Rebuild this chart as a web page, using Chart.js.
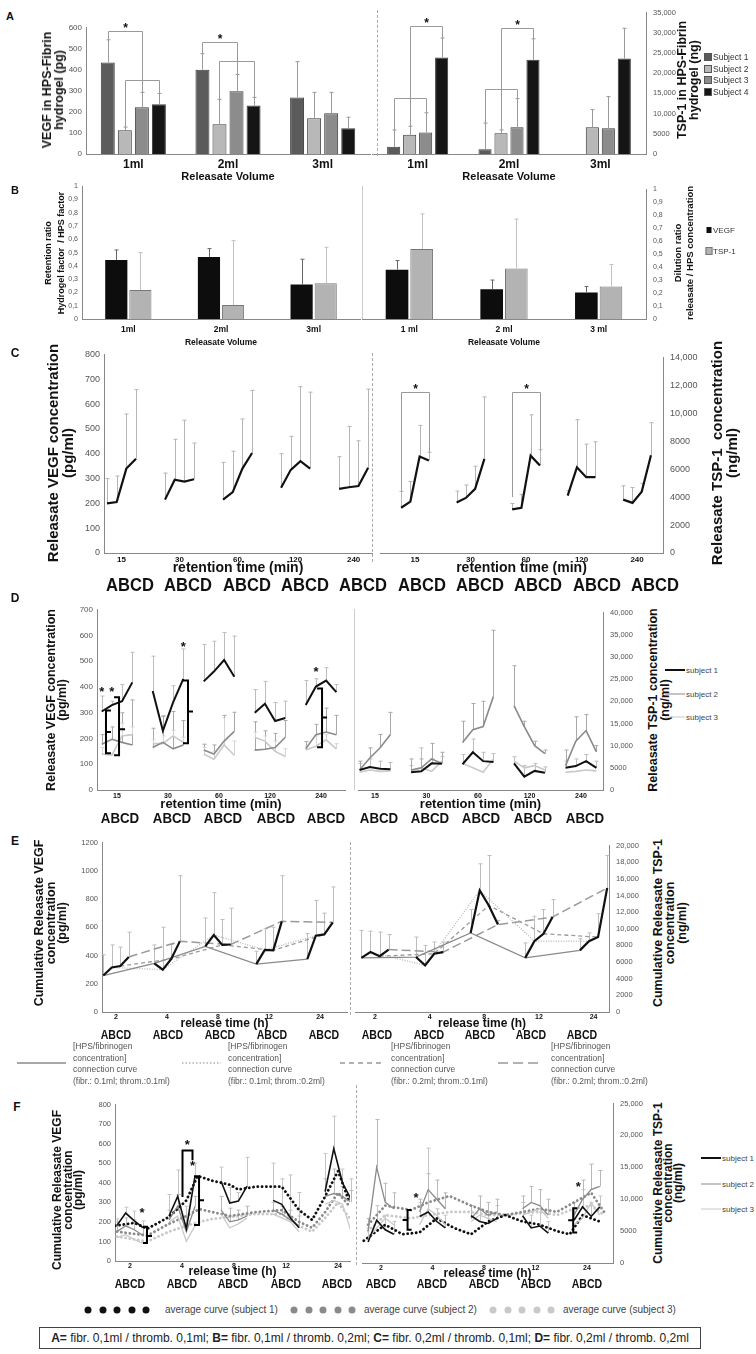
<!DOCTYPE html>
<html>
<head>
<meta charset="utf-8">
<title>VEGF / TSP-1 release from HPS-fibrin hydrogels</title>
<script src="https://cdn.jsdelivr.net/npm/chart.js@4.4.1/dist/chart.umd.min.js"></script>
<style>
  body { margin:0; width:756px; height:1354px; position:relative; background:#fff; overflow:hidden;
         font-family:"Liberation Sans", Arial, sans-serif; color:#111; }
  canvas { position:absolute; }
  .lab { position:absolute; white-space:nowrap; transform:translate(-50%,-50%); }
  .vt { position:absolute; white-space:nowrap; font-weight:bold; text-align:center;
        transform:translate(-50%,-50%) rotate(-90deg); }
  .abs { position:absolute; }
</style>
</head>
<body>
<script>
const F = '"Liberation Sans", Arial, sans-serif';

// ---------------- data ----------------
const volumes = ['1ml', '2ml', '3ml'];
const volumesB = ['1 ml', '2 ml', '3 ml'];
const subjectsA = ['Subject 1', 'Subject 2', 'Subject 3', 'Subject 4'];
// A: VEGF (pg) and TSP-1 (ng) retained in the hydrogel, one row per subject
const vegfA    = [[435, 401, 269], [113, 142, 170], [222, 298, 194], [236, 231, 123]];
const vegfAErr = [[543, 477, 439], [128, 260, 293], [293, 378, 293], [288, 269, 175]];
const tspA     = [[1770, 1200, null], [4750, 5150, 6600], [5300, 6600, 6350], [23900, 23300, 23600]];
const tspAErr  = [[5950, 7650, null], [6850, 5950, 11000], [10200, 13700, 14200], [28700, 28500, 31100]];

// B: retention ratio (left) and dilution ratio (right)
const retVegf = [0.444, 0.466, 0.26],  retVegfErr = [0.52, 0.53, 0.45];
const retTsp  = [0.218, 0.105, 0.27],  retTspErr  = [0.50, 0.59, 0.54];
const dilVegf = [0.38, 0.23, 0.205],   dilVegfErr = [0.45, 0.30, 0.25];
const dilTsp  = [0.54, 0.39, 0.25],    dilTspErr  = [0.81, 0.77, 0.42];

const retentionTimes = ['15', '30', '60', '120', '240'];
const releaseTimes = ['2', '4', '8', '12', '24'];
const abcd = 'ABCD';

// C: one row per retention time, values for A, B, C, D
const vegfC    = [[200, 205, 340, 380], [215, 295, 288, 297], [215, 245, 340, 403], [263, 335, 370, 340], [258, 265, 270, 343]];
const vegfCErr = [[300, 310, 560, 658], [322, 458, 535, 443], [365, 410, 540, 655], [400, 470, 670, 648], [388, 510, 452, 660]];
const tspC     = [[3240, 3680, 6910, 6620], [3620, 3940, 4590, 6740], [3120, 3240, 6970, 6270], [4110, 6130, 5430, 5430], [3820, 3590, 4380, 7000]];
const tspCErr  = [[4410, 5110, 9135, 7210], [4430, 4870, 6210, 11170], [3540, 4200, 9890, 7390], [4460, 9540, 7790, 7960], [4810, 4690, 4990, 9330]];

// D: per subject
const vegfD1 = [[305, 330, 345, 418], [385, 230, 340, 432], [422, 460, 505, 440], [300, 335, 268, 280], [330, 402, 425, 380]];
const vegfD2 = [[178, 197, 185, 175], [165, 185, 160, 175], [155, 140, 190, 228], [155, 158, 165, 205], [160, 215, 225, 215]];
const vegfD3 = [[140, 135, 210, 215], [180, 180, 210, 185], [140, 120, 175, 135], [205, 190, 150, 130], [155, 170, 195, 160]];
const vegfD1Err = [[365, 345, 410, 535], [520, 290, 405, 548], [565, 578, 612, 598], [390, 422, 340, 345], [425, 432, 475, 410]];
const vegfD2Err = [[215, 245, 300, 350], [240, 285, 305, 270], [178, 175, 290, 302], [265, 230, 220, 270], [188, 255, 318, 290]];
const vegfD3Err = [[165, 140, 260, 245], [195, 210, 232, 205], [165, 150, 280, 190], [225, 210, 190, 160], [170, 210, 215, 180]];
const tspD1 = [[4500, 5200, 4800, 4700], [4000, 4200, 6000, 5900], [5800, 8500, 6500, 6300], [6000, 3000, 4300, 3900], [5000, 5400, 6500, 5000]];
const tspD2 = [[4500, 7200, 9500, 12500], [4500, 5000, 7000, 6000], [10700, 13600, 14300, 21100], [19000, 14300, 10000, 8200], [5500, 11000, 13400, 8600]];
const tspD3 = [[4000, 4500, 4200, 4300], [4300, 5000, 4200, 6500], [6000, 5000, 4000, 7000], [6500, 5000, 5500, 4500], [4000, 4200, 4500, 4300]];
const tspD1Err = [[6000, 7000, 6500, 6200], [5500, 9500, 7000, 7500], [8000, 11500, 8500, 8200], [7500, 5500, 6000, 5200], [6500, 7000, 8000, 6500]];
const tspD2Err = [[6500, 9500, 12500, 17500], [7000, 7000, 10500, 8500], [15500, 19500, 20000, 36000], [28000, 15500, 11000, 9000], [9000, 16500, 17000, 10000]];

// E: cumulative release
const vegfE    = [[258, 315, 325, 390], [345, 300, 375, 500], [465, 545, 475, 478], [339, 440, 437, 642], [374, 540, 549, 635]];
const vegfEErr = [[405, 475, 460, 565], [475, 600, 478, 965], [665, 845, 655, 735], [430, 590, 600, 965], [555, 790, 700, 885]];
const tspE     = [[6500, 7200, 6700, 7500], [6600, 5600, 7000, 7200], [9500, 14600, 12800, 10500], [6500, 8500, 9400, 11400], [7400, 8500, 9000, 14900]];
const tspEErr  = [[9800, 9700, 9600, 9300], [9000, 8000, 8400, 8400], [12300, 17800, 18800, 11000], [8300, 11500, 12300, 13500], [8800, 9500, 11800, 18800]];

// F: cumulative release per subject
const vegfF1 = [[182, 245, 205, 170], [230, 330, 165, 435], [408, 296, 306, 383], [310, 290, 220, 170], [355, 575, 400, 315]];
const vegfF2 = [[150, 180, 160, 130], [210, 280, 150, 280], [260, 200, 210, 230], [260, 240, 210, 180], [330, 345, 330, 300]];
const vegfF3 = [[120, 135, 110, 90], [200, 230, 100, 180], [240, 170, 190, 220], [240, 220, 200, 150], [290, 310, 290, 150]];
const vegfF1Err = [[215, 275, 255, 205], [340, 465, 280, 500], [480, 375, 350, 530], [500, 420, 440, 350], [550, 740, 470, 420]];
const vegfF2Err = [[200, 220, 210, 170], [260, 340, 190, 330], [330, 270, 260, 280], [300, 280, 260, 230], [420, 470, 380, 360]];
const vegfAvg1 = [[-0.2, 180], [2, 195], [3.5, 165], [6, 225], [8, 310], [9.3, 435], [11, 410], [13, 390], [14, 365], [16, 380], [19, 380], [21, 260], [22.5, 210], [24, 330], [25.5, 460], [26.8, 300]];
const vegfAvg2 = [[0, 150], [3.5, 130], [6, 190], [8, 230], [9.5, 265], [11, 250], [13, 230], [16, 250], [19, 260], [21, 200], [22.5, 170], [24, 250], [25.5, 350], [26.8, 280]];
const vegfAvg3 = [[0, 125], [3.5, 100], [6, 150], [8, 180], [9.5, 200], [11, 215], [13, 225], [16, 240], [19, 240], [21, 180], [22.5, 150], [24, 220], [25.5, 300], [26.8, 220]];
const tspF1 = [[3300, 6700, 5200, 4500], [7300, 8000, 6500, 5500], [7400, 6500, 6200, 7000], [7400, 5500, 5800, 4700], [6700, 8800, 7300, 8800]];
const tspF2 = [[5000, 15000, 9500, 8500], [8000, 11500, 10000, 8500], [7000, 8500, 7500, 8000], [8500, 9500, 9000, 7500], [7500, 10000, 11500, 12000]];
const tspF3 = [[3800, 5500, 7000, 6000], [6000, 8500, 7500, 6000], [6500, 7500, 7000, 6500], [7500, 8000, 8500, 7000], [6000, 7000, 9500, 7500]];
const tspF1Err = [[5500, 9000, 7500, 6500], [9500, 18000, 8500, 7500], [9000, 8500, 8000, 9000], [9500, 7500, 8000, 6500], [8500, 11500, 9500, 10500]];
const tspF2Err = [[7000, 22500, 12500, 11000], [10000, 14000, 13000, 11000], [9000, 10500, 9500, 10000], [10500, 12000, 11500, 10000], [9500, 13000, 15500, 14500]];
const tspAvg1 = [[-0.5, 3500], [2, 6000], [4, 4500], [6, 4800], [8, 7000], [10, 5500], [12, 4500], [14, 6500], [16, 7500], [18, 6500], [20, 6000], [22, 5000], [23.5, 4500], [25, 7500], [27, 6500]];
const tspAvg2 = [[0, 6000], [2, 9000], [5, 8300], [7, 9500], [9.5, 10500], [12, 9000], [14, 8000], [16, 7500], [18, 8000], [20, 8500], [22, 8000], [24, 9500], [26, 11000], [27.5, 8000]];
const tspAvg3 = [[0, 5000], [2, 7500], [5, 7000], [7, 7500], [9.5, 8000], [12, 8000], [14, 7500], [16, 7500], [18, 7800], [20, 8000], [22, 7500], [24, 8500], [26, 9000], [27.5, 7500]];

// ---------------- styles ----------------
const colA = ['#5b5b5b', '#b8b8b8', '#8c8c8c', '#151515'];
const colS = ['#111111', '#8a8a8a', '#c9c9c9'];

// ---------------- helpers ----------------
const MARKS = {};
let cid = 0;

function fmtInt(v) { return v >= 10000 ? v.toLocaleString('en-US') : String(v); }
function fmtComma(v) { return (v === 0 || v === 1) ? String(v) : v.toFixed(1).replace('.', ','); }

function xPix(chart, x) {
  if (Array.isArray(x)) return chart.getDatasetMeta(x[0]).data[x[1]].x;
  return chart.scales.x.getPixelForValue(x);
}
function star(ctx, x, y, size) {
  ctx.fillStyle = '#111';
  ctx.font = 'bold ' + size + 'px ' + F;
  ctx.textAlign = 'center'; ctx.textBaseline = 'middle';
  ctx.fillText('*', x, y + size * 0.25);
}
function drawErr(chart, behind) {
  const ctx = chart.ctx, ys = chart.scales.y;
  chart.data.datasets.forEach((ds, di) => {
    if (!ds.err || !!ds.errBehind !== behind) return;
    const meta = chart.getDatasetMeta(di);
    ctx.save();
    ctx.strokeStyle = ds.errColor || '#aaa'; ctx.lineWidth = 1;
    ctx.beginPath();
    meta.data.forEach((el, i) => {
      const e = ds.err[i];
      if (e == null || el.skip || isNaN(el.y)) return;
      const x = Math.round(el.x) + 0.5, y1 = ys.getPixelForValue(e);
      ctx.moveTo(x, el.y); ctx.lineTo(x, y1);
      ctx.moveTo(x - 2, y1); ctx.lineTo(x + 2, y1);
    });
    ctx.stroke();
    ctx.restore();
  });
}
const marksPlugin = {
  id: 'marks',
  beforeDatasetsDraw(chart) { drawErr(chart, true); },
  afterDatasetsDraw(chart) {
    drawErr(chart, false);
    const m = MARKS[chart.canvas.id] || {};
    const ctx = chart.ctx, ys = chart.scales.y;
    const Y = v => ys.getPixelForValue(v);
    ctx.save();
    (m.br || []).forEach(b => {
      const x1 = Math.round(xPix(chart, b.x1)) + 0.5, x2 = Math.round(xPix(chart, b.x2)) + 0.5;
      const y = Math.round(Y(b.y)) + 0.5;
      ctx.strokeStyle = b.c || '#9a9a9a'; ctx.lineWidth = b.w || 1;
      ctx.beginPath();
      ctx.moveTo(x1, Y(b.y1)); ctx.lineTo(x1, y); ctx.lineTo(x2, y); ctx.lineTo(x2, Y(b.y2));
      ctx.stroke();
      if (b.star) star(ctx, (x1 + x2) / 2, y - 6, 12);
    });
    (m.side || []).forEach(s => {
      const x = xPix(chart, s.x), y1 = Y(s.y1), y2 = Y(s.y2), ym = Y(s.ym);
      ctx.strokeStyle = '#000'; ctx.lineWidth = 2;
      ctx.beginPath();
      ctx.moveTo(x + s.cap, y1); ctx.lineTo(x, y1); ctx.lineTo(x, y2); ctx.lineTo(x + s.cap, y2);
      ctx.moveTo(x, ym); ctx.lineTo(x + s.tick, ym);
      ctx.stroke();
    });
    (m.stars || []).forEach(s => star(ctx, xPix(chart, s.x), Y(s.y), 13));
    ctx.restore();
  }
};
Chart.register(marksPlugin);

function makeChart(area, side, yw, xh, cfg, marks) {
  const padT = 8, padS = 4;
  const x = side === 'left' ? area.L - yw : area.L - padS;
  const w = side === 'left' ? area.R + padS - x : area.R + yw - x;
  const y = area.T - padT, h = area.B + xh - y;
  const c = document.createElement('canvas');
  c.id = 'c' + (cid++);
  c.width = w; c.height = h;
  c.style.left = x + 'px'; c.style.top = y + 'px';
  document.body.appendChild(c);
  MARKS[c.id] = marks || {};
  const o = cfg.options;
  o.layout = { padding: side === 'left' ? { top: padT, right: padS, left: 0, bottom: 0 } : { top: padT, left: padS, right: 0, bottom: 0 } };
  o.responsive = false; o.animation = false; o.devicePixelRatio = 1;
  o.plugins = { legend: { display: false }, tooltip: { enabled: false } };
  o.scales.y.afterFit = s => { s.width = yw; };
  o.scales.x.afterFit = s => { s.height = xh; };
  return new Chart(c, cfg);
}
function yAx(pos, max, step, size, fmt) {
  return {
    position: pos, min: 0, max: max,
    ticks: { stepSize: step, font: { size: size, family: F }, color: '#555', padding: pos === 'left' ? 4 : 7, callback: fmt },
    grid: { display: false, drawTicks: false }, border: { display: true, color: '#888' }
  };
}
function xCat(title, tickSize, titleSize, pad) {
  return {
    type: 'category', offset: true,
    ticks: { font: { size: tickSize, weight: 'bold', family: F }, color: '#111', padding: pad, maxRotation: 0, autoSkip: false },
    grid: { display: false, drawTicks: false }, border: { display: true, color: '#888' },
    title: { display: true, text: title, font: { size: titleSize, weight: 'bold', family: F }, color: '#111', padding: 0 }
  };
}
function xLin(min, max, G, labels, title, tickSize, titleSize, pad) {
  const centers = labels.map((_, g) => g * G + 1.5);
  return {
    type: 'linear', min: min, max: max,
    afterBuildTicks: s => { s.ticks = centers.map(v => ({ value: v })); },
    ticks: { font: { size: tickSize, weight: 'bold', family: F }, color: '#111', padding: pad, maxRotation: 0, autoSkip: false,
             callback: (v, i) => labels[i] },
    grid: { display: false, drawTicks: false }, border: { display: true, color: '#888' },
    title: { display: true, text: title, font: { size: titleSize, weight: 'bold', family: F }, color: '#111', padding: 0 }
  };
}
function pts(G, groups) {
  const out = [];
  groups.forEach((grp, g) => {
    grp.forEach((v, k) => out.push({ x: g * G + k, y: v }));
    out.push({ x: g * G + 3.5, y: null });
  });
  return out;
}
function errs(groups) {
  const out = [];
  groups.forEach(grp => { grp.forEach(v => out.push(v)); out.push(null); });
  return out;
}
function lineDs(G, groups, color, width, err, errColor) {
  return { data: pts(G, groups), borderColor: color, borderWidth: width, pointRadius: 0, spanGaps: false, tension: 0,
           err: err ? errs(err) : null, errColor: errColor, errBehind: true };
}
function connDs(G, groups, k, color, width, dash) {
  return { data: groups.map((grp, g) => ({ x: g * G + k, y: grp[k] })), borderColor: color, borderWidth: width,
           borderDash: dash, pointRadius: 0, tension: 0 };
}
function avgDs(list, color) {
  return { data: list.map(p => ({ x: p[0], y: p[1] })), borderColor: color, borderWidth: 2.8, borderDash: [0.1, 4.2],
           borderCapStyle: 'round', pointRadius: 0, tension: 0 };
}

function lab(text, x, y, size, extra) {
  const d = document.createElement('div');
  d.className = 'lab';
  d.style.left = x + 'px'; d.style.top = y + 'px'; d.style.fontSize = size + 'px';
  if (extra) d.style.cssText += extra;
  d.innerHTML = text;
  document.body.appendChild(d);
  return d;
}
function vt(lines, x, y, size, lh) {
  const d = document.createElement('div');
  d.className = 'vt';
  d.style.left = x + 'px'; d.style.top = y + 'px'; d.style.fontSize = size + 'px'; d.style.lineHeight = lh + 'px';
  d.innerHTML = lines.join('<br>');
  document.body.appendChild(d);
}
function vline(x, y1, y2, style) {
  const d = document.createElement('div');
  d.className = 'abs';
  d.style.cssText += 'left:' + x + 'px;top:' + y1 + 'px;height:' + (y2 - y1) + 'px;border-left:' + style + ';';
  document.body.appendChild(d);
}
function abcdRow(centers, y, size, sx) {
  centers.forEach(cx => lab(abcd, cx, y, size, 'font-weight:bold;transform:translate(-50%,-50%) scaleX(' + sx + ');'));
}

// ---------------- panel A ----------------
makeChart({ L: 86, T: 27, R: 370, B: 154 }, 'left', 26, 30, {
  type: 'bar',
  data: { labels: volumes, datasets: subjectsA.map((s, i) => ({
    label: s, data: vegfA[i], backgroundColor: colA[i], borderColor: '#3a3a3a', borderWidth: 1,
    categoryPercentage: 0.72, barPercentage: 0.82, err: vegfAErr[i], errColor: '#9a9a9a' })) },
  options: { scales: { x: xCat('Releasate Volume', 12, 11, 3), y: yAx('left', 600, 100, 8, fmtInt) } }
}, { br: [
  { x1: [0, 0], x2: [2, 0], y: 585, y1: 543, y2: 293, star: true },
  { x1: [1, 0], x2: [3, 0], y: 350, y1: 128, y2: 288 },
  { x1: [0, 1], x2: [2, 1], y: 534, y1: 477, y2: 378, star: true },
  { x1: [1, 1], x2: [3, 1], y: 440, y1: 260, y2: 269 } ] });

makeChart({ L: 372, T: 9, R: 646, B: 154 }, 'right', 36, 30, {
  type: 'bar',
  data: { labels: volumes, datasets: subjectsA.map((s, i) => ({
    label: s, data: tspA[i], backgroundColor: colA[i], borderColor: '#3a3a3a', borderWidth: 1,
    categoryPercentage: 0.70, barPercentage: 0.82, err: tspAErr[i], errColor: '#9a9a9a' })) },
  options: { scales: { x: xCat('Releasate Volume', 12, 11, 3), y: yAx('right', 35000, 5000, 7.5, fmtInt) } }
}, { br: [
  { x1: [1, 0], x2: [3, 0], y: 31600, y1: 6850, y2: 28700, star: true },
  { x1: [0, 0], x2: [2, 0], y: 13750, y1: 5950, y2: 10200 },
  { x1: [1, 1], x2: [3, 1], y: 31100, y1: 5950, y2: 28500, star: true },
  { x1: [0, 1], x2: [2, 1], y: 16150, y1: 7650, y2: 13700 } ] });

lab('A', 10, 16, 11, 'font-weight:bold;');
vt(['VEGF in HPS-Fibrin', 'hydrogel (pg)'], 53, 90, 12.5, 12);
vt(['TSP-1 in HPS-Fibrin', 'hydrogel (ng)'], 688, 80, 12.5, 12);
vline(377, 10, 156, '1px dashed #aaa');
subjectsA.forEach((s, i) => {
  const y = 57 + i * 11.5;
  lab('', 708, y, 8, 'width:6px;height:6px;background:' + colA[i] + ';border:1px solid #555;');
  lab(s, 713, y, 8.5, 'transform:translate(0,-50%);color:#333;');
});

// ---------------- panel B ----------------
function bDatasets(v, vErr, t, tErr) {
  return [
    { label: 'VEGF', data: v, backgroundColor: '#0d0d0d', categoryPercentage: 0.52, barPercentage: 0.92, err: vErr, errColor: '#666' },
    { label: 'TSP-1', data: t, backgroundColor: '#b3b3b3', borderColor: '#777', borderWidth: 1, categoryPercentage: 0.52, barPercentage: 0.92, err: tErr, errColor: '#c2c2c2' }
  ];
}
makeChart({ L: 82, T: 186, R: 360, B: 319 }, 'left', 22, 29, {
  type: 'bar',
  data: { labels: volumes, datasets: bDatasets(retVegf, retVegfErr, retTsp, retTspErr) },
  options: { scales: { x: xCat('Releasate Volume', 8.5, 8.5, 6), y: yAx('left', 1, 0.1, 7, fmtComma) } }
});
makeChart({ L: 362, T: 186, R: 646, B: 319 }, 'right', 30, 29, {
  type: 'bar',
  data: { labels: volumesB, datasets: bDatasets(dilVegf, dilVegfErr, dilTsp, dilTspErr) },
  options: { scales: { x: xCat('Releasate Volume', 8.5, 8.5, 6), y: yAx('right', 1, 0.1, 7, fmtComma) } }
});
lab('B', 15, 190, 11, 'font-weight:bold;');
vt(['Retention ratio', 'Hydrogel factor &nbsp;/ HPS factor'], 55, 253, 9, 13);
vt(['Dilution ratio', 'releasate / HPS concentration'], 684, 253, 9.5, 12);
vline(362, 186, 319, '1px solid #ccc');
lab('', 709, 230, 8, 'width:5px;height:6px;background:#0d0d0d;');
lab('VEGF', 713, 230, 8, 'transform:translate(0,-50%);color:#333;');
lab('', 709, 251, 8, 'width:5px;height:6px;background:#b3b3b3;border:1px solid #777;');
lab('TSP-1', 713, 251, 8, 'transform:translate(0,-50%);color:#333;');

// ---------------- panel C ----------------
makeChart({ L: 104, T: 353, R: 372, B: 553 }, 'left', 29, 24, {
  type: 'line',
  data: { datasets: [lineDs(6, vegfC, '#111', 2.2, vegfCErr, '#b5b5b5')] },
  options: { scales: { x: xLin(-0.31, 27.4, 6, retentionTimes, 'retention time (min)', 8, 14, 2), y: yAx('left', 800, 100, 9, fmtInt) } }
});
makeChart({ L: 380, T: 353, R: 663, B: 553 }, 'right', 40, 24, {
  type: 'line',
  data: { datasets: [lineDs(6, tspC, '#111', 2.2, tspCErr, '#b5b5b5')] },
  options: { scales: { x: xLin(-2.28, 28.3, 6, retentionTimes, 'retention time (min)', 8, 14, 2), y: yAx('right', 14000, 2000, 9, fmtInt) } }
}, { br: [
  { x1: 0, x2: 3, y: 11500, y1: 4400, y2: 7210, star: true },
  { x1: 12, x2: 15, y: 11500, y1: 4000, y2: 7390, star: true } ] });
lab('C', 15, 353, 12, 'font-weight:bold;');
vt(['Releasate VEGF concentration', '(pg/ml)'], 60, 453, 15, 15);
vt(['Releasate TSP-1 &nbsp;concentration', '(ng/ml)'], 724, 453, 15, 15);
vline(372, 353, 562, '1px dashed #aaa');
abcdRow([130, 188, 247, 305, 363, 422, 480, 538, 597, 655], 585, 18, 0.92);

// ---------------- panel D ----------------
makeChart({ L: 97, T: 609, R: 345, B: 790 }, 'left', 25, 22, {
  type: 'line',
  data: { datasets: [
    lineDs(5, vegfD1, colS[0], 2, vegfD1Err, '#bdbdbd'),
    lineDs(5, vegfD2, colS[1], 1.6, vegfD2Err, '#a8a8a8'),
    lineDs(5, vegfD3, colS[2], 1.6, vegfD3Err, '#d5d5d5') ] },
  options: { scales: { x: xLin(-0.46, 23.85, 5, retentionTimes, 'retention time (min)', 7, 13, 2), y: yAx('left', 700, 100, 8, fmtInt) } }
}, {
  side: [
    { x: 0.42, y1: 309, y2: 143, ym: 225, cap: 5, tick: 5 },
    { x: 1.7, y1: 360, y2: 135, ym: 236, cap: -5, tick: 6 },
    { x: 8.46, y1: 425, y2: 182, ym: 305, cap: -5, tick: 5 },
    { x: 21.6, y1: 394, y2: 166, ym: 282, cap: -5, tick: 5 } ],
  stars: [{ x: 0, y: 390 }, { x: 1, y: 390 }, { x: 8, y: 565 }, { x: 21, y: 468 }]
});
makeChart({ L: 358, T: 609, R: 603, B: 790 }, 'right', 35, 22, {
  type: 'line',
  data: { datasets: [
    lineDs(5, tspD1, colS[0], 2, tspD1Err, '#bdbdbd'),
    lineDs(5, tspD2, colS[1], 1.6, tspD2Err, '#a8a8a8'),
    lineDs(5, tspD3, colS[2], 1.6, null, null) ] },
  options: { scales: { x: xLin(-0.15, 23.64, 5, retentionTimes, 'retention time (min)', 7, 13, 2), y: yAx('right', 40000, 5000, 7.5, fmtInt) } }
});
lab('D', 15, 598, 12, 'font-weight:bold;');
vt(['Releasate VEGF concentration', '(pg/ml)'], 57, 700, 12.5, 11);
vt(['Releasate TSP-1 concentration', '(ng/ml)'], 659, 700, 12.5, 12);
vline(354, 609, 790, '1px solid #ccc');
abcdRow([120, 172, 223, 276, 326, 379, 430, 481, 533, 585], 818, 14, 0.95);
['subject 1', 'subject 2', 'subject 3'].forEach((s, i) => {
  const y = 670 + i * 23.5;
  lab('', 675, y, 8, 'width:20px;height:0;border-top:' + (i === 0 ? 2 : 1.5) + 'px solid ' + colS[i] + ';');
  lab(s, 686, y, 8, 'transform:translate(0,-50%);color:#444;');
});

// ---------------- panel E ----------------
makeChart({ L: 102, T: 842, R: 347, B: 1012 }, 'left', 26, 19, {
  type: 'line',
  data: { datasets: [
    lineDs(6, vegfE, '#111', 2.2, vegfEErr, '#bdbdbd'),
    connDs(6, vegfE, 0, '#8a8a8a', 1.3, []),
    connDs(6, vegfE, 1, '#bcbcbc', 1.4, [1, 1.5]),
    connDs(6, vegfE, 2, '#9a9a9a', 1.3, [4, 3]),
    connDs(6, vegfE, 3, '#9a9a9a', 1.5, [9, 4]) ] },
  options: { scales: { x: xLin(-0.15, 28.67, 6, releaseTimes, 'release time (h)', 7, 12, 1), y: yAx('left', 1200, 200, 7.5, fmtInt) } }
});
makeChart({ L: 355, T: 842, R: 609, B: 1012 }, 'right', 36, 19, {
  type: 'line',
  data: { datasets: [
    lineDs(6, tspE, '#111', 2.2, tspEErr, '#bdbdbd'),
    connDs(6, tspE, 0, '#8a8a8a', 1.3, []),
    connDs(6, tspE, 1, '#bcbcbc', 1.4, [1, 1.5]),
    connDs(6, tspE, 2, '#9a9a9a', 1.3, [4, 3]),
    connDs(6, tspE, 3, '#9a9a9a', 1.5, [9, 4]) ] },
  options: { scales: { x: xLin(-0.7, 27.2, 6, releaseTimes, 'release time (h)', 7, 12, 1), y: yAx('right', 20000, 2000, 7.5, fmtInt) } }
});
lab('E', 15, 841, 12, 'font-weight:bold;');
vt(['Cumulative Releasate VEGF', 'concentration', '(pg/ml)'], 51, 923, 12.5, 11.5);
vt(['Cumulative Releasate TSP-1', 'concentration', '(ng/ml)'], 670, 923, 12.5, 12);
vline(350, 842, 1015, '1px dashed #aaa');
abcdRow([116, 168, 220, 272, 324, 377, 429, 480, 531, 582], 1035, 12, 0.88);
[[17, 66, 73, '0.1ml; throm.:0.1ml', '', '#8a8a8a'], [182, 221, 228, '0.1ml; throm.:0.2ml', '1.5 2', '#b0b0b0'],
 [340, 383, 391, '0.2ml; throm.:0.1ml', '5 4', '#999'], [498, 541, 551, '0.2ml; throm.:0.2ml', '10 5', '#999']].forEach(it => {
  const s = document.createElement('div');
  s.className = 'abs';
  s.style.cssText += 'left:' + it[0] + 'px;top:1052px;';
  s.innerHTML = '<svg width="' + (it[1] - it[0]) + '" height="6"><line x1="0" y1="3" x2="' + (it[1] - it[0]) + '" y2="3" stroke="' + it[5] +
    '" stroke-width="1.6" stroke-dasharray="' + it[4] + '"/></svg>';
  document.body.appendChild(s);
  lab('[HPS/fibrinogen<br>concentration]<br>connection curve<br>(fibr.: ' + it[3] + ')', it[2], 1041, 8.5,
      'transform:none;line-height:11.5px;color:#555;');
});

// ---------------- panel F ----------------
makeChart({ L: 115, T: 1104, R: 350, B: 1261 }, 'left', 30, 18, {
  type: 'line',
  data: { datasets: [
    lineDs(6, vegfF1, colS[0], 1.6, vegfF1Err, '#c4c4c4'),
    lineDs(6, vegfF2, colS[1], 1.3, vegfF2Err, '#b8b8b8'),
    lineDs(6, vegfF3, colS[2], 1.3, null, null),
    avgDs(vegfAvg1, colS[0]), avgDs(vegfAvg2, colS[1]), avgDs(vegfAvg3, colS[2]) ] },
  options: { scales: { x: xLin(-0.23, 26.87, 6, releaseTimes, 'release time (h)', 7, 12, 1), y: yAx('left', 800, 100, 7.5, fmtInt) } }
}, {
  side: [
    { x: 3.46, y1: 175, y2: 92, ym: 128, cap: -4, tick: 5 },
    { x: 9.46, y1: 433, y2: 184, ym: 311, cap: -5, tick: 5 } ],
  br: [{ x1: 7.5, x2: 8.65, y: 566, y1: 327, y2: 515, c: '#000', w: 2 }],
  stars: [{ x: 2.88, y: 262 }, { x: 8.1, y: 605 }, { x: 8.7, y: 500 }]
});
makeChart({ L: 362, T: 1100, R: 613, B: 1263 }, 'right', 36, 18, {
  type: 'line',
  data: { datasets: [
    lineDs(6, tspF1, colS[0], 1.6, tspF1Err, '#c4c4c4'),
    lineDs(6, tspF2, colS[1], 1.3, tspF2Err, '#b8b8b8'),
    lineDs(6, tspF3, colS[2], 1.3, null, null),
    avgDs(tspAvg1, colS[0]), avgDs(tspAvg2, colS[1]), avgDs(tspAvg3, colS[2]) ] },
  options: { scales: { x: xLin(-0.71, 28.54, 6, releaseTimes, 'release time (h)', 7, 12, 1), y: yAx('right', 25000, 5000, 7.5, fmtInt) } }
}, {
  side: [
    { x: 4.6, y1: 8300, y2: 5200, ym: 6750, cap: 4, tick: -5 },
    { x: 23.9, y1: 8600, y2: 4800, ym: 6700, cap: 4, tick: -5 } ],
  stars: [{ x: 5.6, y: 10700 }, { x: 24.5, y: 12400 }]
});
lab('F', 17, 1107, 12, 'font-weight:bold;');
vt(['Cumulative Releasate VEGF', 'concentration', '(pg/ml)'], 68, 1190, 12, 10.5);
vt(['Cumulative Releasate TSP-1', 'concentration', '(ng/ml)'], 668, 1183, 12, 10);
vline(356, 1085, 1265, '1px dashed #aaa');
abcdRow([130, 182, 233, 286, 337, 381, 432, 484, 536, 587], 1284, 12, 0.88);
['subject 1', 'subject 2', 'subject 3'].forEach((s, i) => {
  const y = 1158 + i * 25.5;
  lab('', 711, y, 8, 'width:20px;height:0;border-top:' + (i === 0 ? 2 : 1.5) + 'px solid ' + colS[i] + ';');
  lab(s, 722, y, 8, 'transform:translate(0,-50%);color:#444;');
});

// average-curve legend
[[88, 165], [294, 364], [493, 563]].forEach((p, i) => {
  for (let k = 0; k < 5; k++) lab('', p[0] + k * 14.5, 1310, 8, 'width:7px;height:7px;border-radius:50%;background:' + colS[i] + ';');
  lab('average curve (subject ' + (i + 1) + ')', p[1], 1309, 10, 'transform:translate(0,-50%);color:#444;');
});

// condition key
lab('<b>A=</b> fibr. 0,1ml / thromb. 0,1ml; <b>B=</b> fibr. 0,1ml / thromb. 0,2ml; <b>C=</b> fibr. 0,2ml / thromb. 0,1ml; <b>D=</b> fibr. 0,2ml / thromb. 0,2ml',
    370, 1338, 12, 'border:1.5px solid #444;padding:3px 10px;width:640px;text-align:center;color:#222;');
</script>
</body>
</html>
